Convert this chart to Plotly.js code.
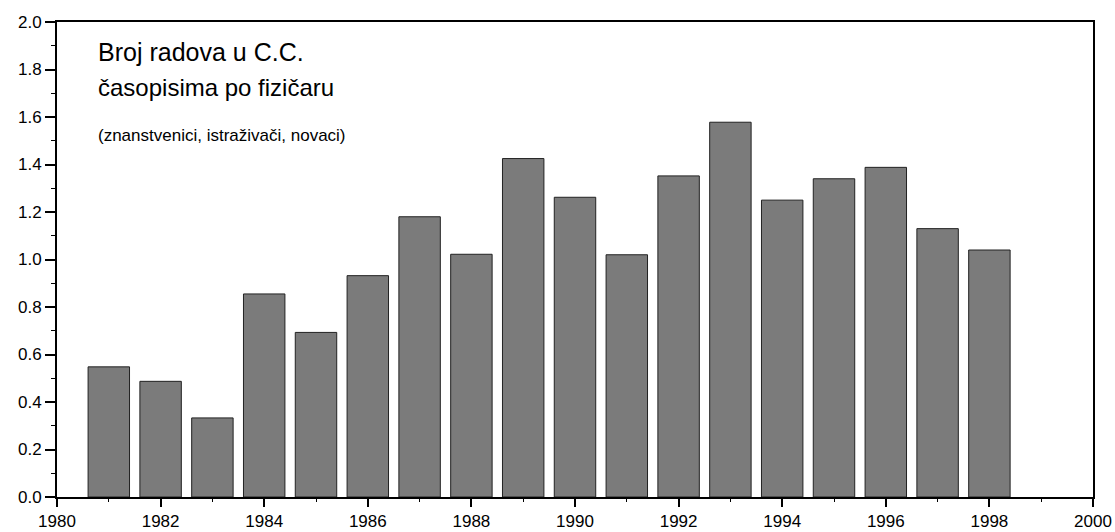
<!DOCTYPE html>
<html>
<head>
<meta charset="utf-8">
<script src="https://cdn.plot.ly/plotly-3.0.1.min.js"></script>
<style>html,body{margin:0;padding:0;background:#fff;}#chart{width:1115px;height:532px;}</style>
</head>
<body>
<div id="chart"></div>
<script>
const years = [1981, 1982, 1983, 1984, 1985, 1986, 1987, 1988, 1989, 1990, 1991, 1992, 1993, 1994, 1995, 1996, 1997, 1998];
const papersPerPhysicist = [0.548, 0.487, 0.333, 0.855, 0.693, 0.932, 1.18, 1.022, 1.425, 1.262, 1.02, 1.352, 1.578, 1.25, 1.34, 1.388, 1.13, 1.04];
const xTicks = [1980, 1982, 1984, 1986, 1988, 1990, 1992, 1994, 1996, 1998, 2000];
const yTicks = [0, 0.2, 0.4, 0.6, 0.8, 1.0, 1.2, 1.4, 1.6, 1.8, 2.0];
const yTickText = ["0.0", "0.2", "0.4", "0.6", "0.8", "1.0", "1.2", "1.4", "1.6", "1.8", "2.0"];
const titleLines = ["Broj radova u C.C.", "časopisima po fizičaru", "(znanstvenici, istraživači, novaci)"];

const font = "Arial, 'Liberation Sans', sans-serif";

const trace = {
  type: "bar",
  x: years,
  y: papersPerPhysicist,
  width: 0.8,
  marker: { color: "#7b7b7b", line: { color: "#222", width: 1 } },
  hoverinfo: "x+y"
};

const layout = {
  width: 1115,
  height: 532,
  margin: { l: 57, r: 22, t: 22, b: 35 },
  paper_bgcolor: "#fff",
  plot_bgcolor: "#fff",
  showlegend: false,
  font: { family: font, color: "#000", size: 17 },
  xaxis: {
    range: [1980, 2000],
    tickmode: "array",
    tickvals: xTicks,
    ticktext: xTicks.map(String),
    ticks: "outside",
    ticklen: 8,
    tickwidth: 2,
    tickcolor: "#000",
    minor: { dtick: 1, tick0: 1980, ticks: "outside", ticklen: 3, tickwidth: 1, tickcolor: "#000" },
    showline: true,
    linewidth: 2,
    linecolor: "#000",
    mirror: true,
    showgrid: false,
    zeroline: false,
    tickfont: { family: font, size: 17, color: "#000" }
  },
  yaxis: {
    range: [0, 2.0],
    tickmode: "array",
    tickvals: yTicks,
    ticktext: yTickText,
    ticks: "outside",
    ticklen: 10,
    tickwidth: 2,
    tickcolor: "#000",
    minor: { dtick: 0.1, tick0: 0, ticks: "outside", ticklen: 4, tickwidth: 1, tickcolor: "#000" },
    showline: true,
    linewidth: 2,
    linecolor: "#000",
    mirror: true,
    showgrid: false,
    zeroline: false,
    tickfont: { family: font, size: 17, color: "#000" }
  },
  annotations: [
    { text: titleLines[0], xref: "paper", yref: "paper", x: 0.038, y: 0.937, xanchor: "left", yanchor: "middle", showarrow: false, font: { family: font, size: 25, color: "#000" } },
    { text: titleLines[1], xref: "paper", yref: "paper", x: 0.038, y: 0.862, xanchor: "left", yanchor: "middle", showarrow: false, font: { family: font, size: 24, color: "#000" } },
    { text: titleLines[2], xref: "paper", yref: "paper", x: 0.038, y: 0.762, xanchor: "left", yanchor: "middle", showarrow: false, font: { family: font, size: 17, color: "#000" } }
  ]
};

Plotly.newPlot("chart", [trace], layout, { displayModeBar: false, staticPlot: true });
</script>
</body>
</html>
